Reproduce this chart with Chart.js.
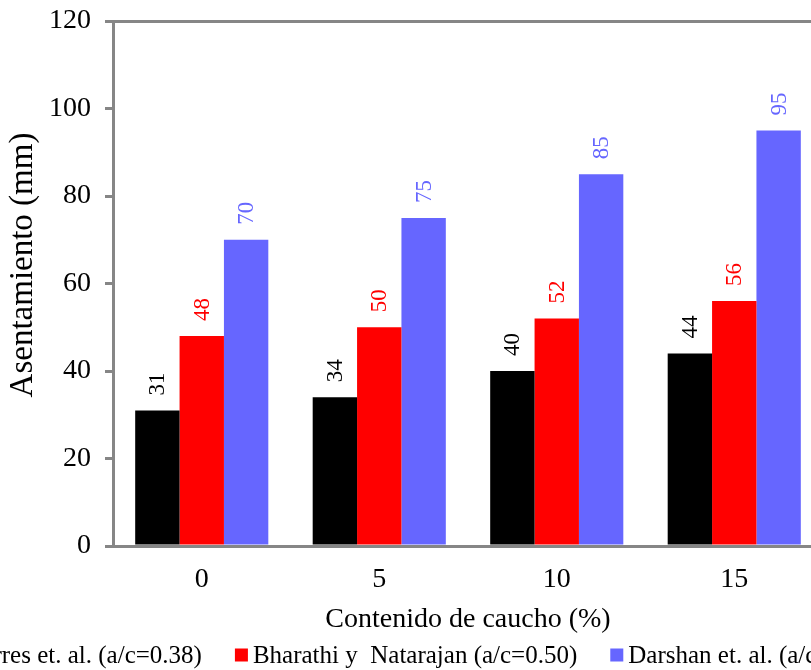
<!DOCTYPE html>
<html>
<head>
<meta charset="utf-8">
<script src="https://cdn.jsdelivr.net/npm/chart.js@4/dist/chart.umd.min.js"></script>
<style>
  html, body { margin: 0; padding: 0; width: 811px; height: 670px; overflow: hidden; background: #ffffff; }
  #wrap { position: absolute; left: -60px; top: 0; width: 900px; height: 670px; }
</style>
</head>
<body>
<div id="wrap"><canvas id="c" width="900" height="670"></canvas></div>
<script>
// Rubber content (%) on the x axis
const categories = ['0', '5', '10', '15'];

// Slump (mm) for each mix
const seriesNames = [
  'Torres et. al. (a/c=0.38)',
  'Bharathi y  Natarajan (a/c=0.50)',
  'Darshan et. al. (a/c=0.50)'
];
const torres = [31, 34, 40, 44];
const bharathi = [48, 50, 52, 56];
const darshan = [70, 75, 85, 95];

const yTicks = [0, 20, 40, 60, 80, 100, 120];
const seriesColors = ['#000000', '#FF0000', '#6666FF'];
const yTitle = 'Asentamiento (mm)';

const FONT = "'Liberation Serif', 'Times New Roman', serif";
const AXIS_GREY = '#868686';

// Rotated value labels above each bar
const valueLabels = {
  id: 'valueLabels',
  afterDatasetsDraw(chart) {
    const ctx = chart.ctx;
    ctx.save();
    ctx.font = '23px ' + FONT;
    ctx.textAlign = 'left';
    ctx.textBaseline = 'middle';
    chart.data.datasets.forEach((ds, i) => {
      const meta = chart.getDatasetMeta(i);
      meta.data.forEach((bar, j) => {
        ctx.save();
        ctx.translate(bar.x + 1, bar.y - 15);
        ctx.rotate(-Math.PI / 2);
        ctx.fillStyle = ds.backgroundColor;
        ctx.fillText(String(ds.data[j]), 0, 0);
        ctx.restore();
      });
    });
    ctx.restore();
  }
};

// Vertical axis title, set slightly above the middle of the plot
const sideTitle = {
  id: 'sideTitle',
  afterDraw(chart) {
    const ctx = chart.ctx;
    ctx.save();
    ctx.font = '33px ' + FONT;
    ctx.textAlign = 'center';
    ctx.textBaseline = 'middle';
    ctx.fillStyle = '#000000';
    ctx.translate(83, 265);
    ctx.rotate(-Math.PI / 2);
    ctx.fillText(yTitle, 0, 0);
    ctx.restore();
  }
};

// Legend row under the axis title
const bottomLegend = {
  id: 'bottomLegend',
  afterDraw(chart) {
    const ctx = chart.ctx;
    ctx.save();
    ctx.font = '25px ' + FONT;
    ctx.textBaseline = 'middle';
    ctx.textAlign = 'left';
    const box = 13, gapText = 5, gapItem = 33;
    const items = chart.data.datasets.map(ds => ({
      label: ds.label, color: ds.backgroundColor,
      w: box + gapText + ctx.measureText(ds.label).width
    }));
    const total = items.reduce((s, it) => s + it.w, 0) + gapItem * (items.length - 1);
    let x = 476 - total / 2;
    const cy = 655;
    items.forEach(it => {
      ctx.fillStyle = it.color;
      ctx.fillRect(x, cy - box / 2, box, box);
      ctx.fillStyle = '#000000';
      ctx.fillText(it.label, x + box + gapText, cy + 1);
      x += it.w + gapItem;
    });
    ctx.restore();
  }
};

new Chart(document.getElementById('c'), {
  type: 'bar',
  data: {
    labels: categories,
    datasets: [
      { label: seriesNames[0], data: torres, backgroundColor: seriesColors[0] },
      { label: seriesNames[1], data: bharathi, backgroundColor: seriesColors[1] },
      { label: seriesNames[2], data: darshan, backgroundColor: seriesColors[2] }
    ]
  },
  options: {
    responsive: false,
    animation: false,
    devicePixelRatio: 1,
    layout: { padding: { left: 63, top: 21, right: 17, bottom: 30 } },
    datasets: { bar: { categoryPercentage: 0.75, barPercentage: 1.0, borderWidth: 0 } },
    plugins: { legend: { display: false }, tooltip: { enabled: false } },
    scales: {
      x: {
        grid: { display: false, drawTicks: false },
        border: { display: true, color: AXIS_GREY, width: 3 },
        ticks: { color: '#000000', font: { family: FONT, size: 28 }, padding: 17 },
        title: {
          display: true, text: 'Contenido de caucho (%)', color: '#000000',
          font: { family: FONT, size: 28 }, padding: { top: 0, bottom: 4 }
        },
        afterFit(scale) {
          scale.height = 94;
          scale.paddingLeft = 0;
          scale.paddingRight = 0;
        }
      },
      y: {
        min: 0, max: 120,
        afterBuildTicks(scale) { scale.ticks = yTicks.map(v => ({ value: v })); },
        grid: {
          drawOnChartArea: true,
          color: ctx => (ctx.tick && ctx.tick.value === 120 ? AXIS_GREY : 'rgba(0,0,0,0)'),
          lineWidth: 3,
          tickColor: AXIS_GREY,
          tickLength: 8
        },
        border: { display: true, color: AXIS_GREY, width: 3 },
        ticks: { color: '#000000', font: { family: FONT, size: 28 }, padding: 14 },
        title: { display: false },
        afterFit(scale) {
          scale.width = 110;
          scale.paddingTop = 0;
          scale.paddingBottom = 0;
        }
      }
    }
  },
  plugins: [valueLabels, sideTitle, bottomLegend]
});
</script>
</body>
</html>
